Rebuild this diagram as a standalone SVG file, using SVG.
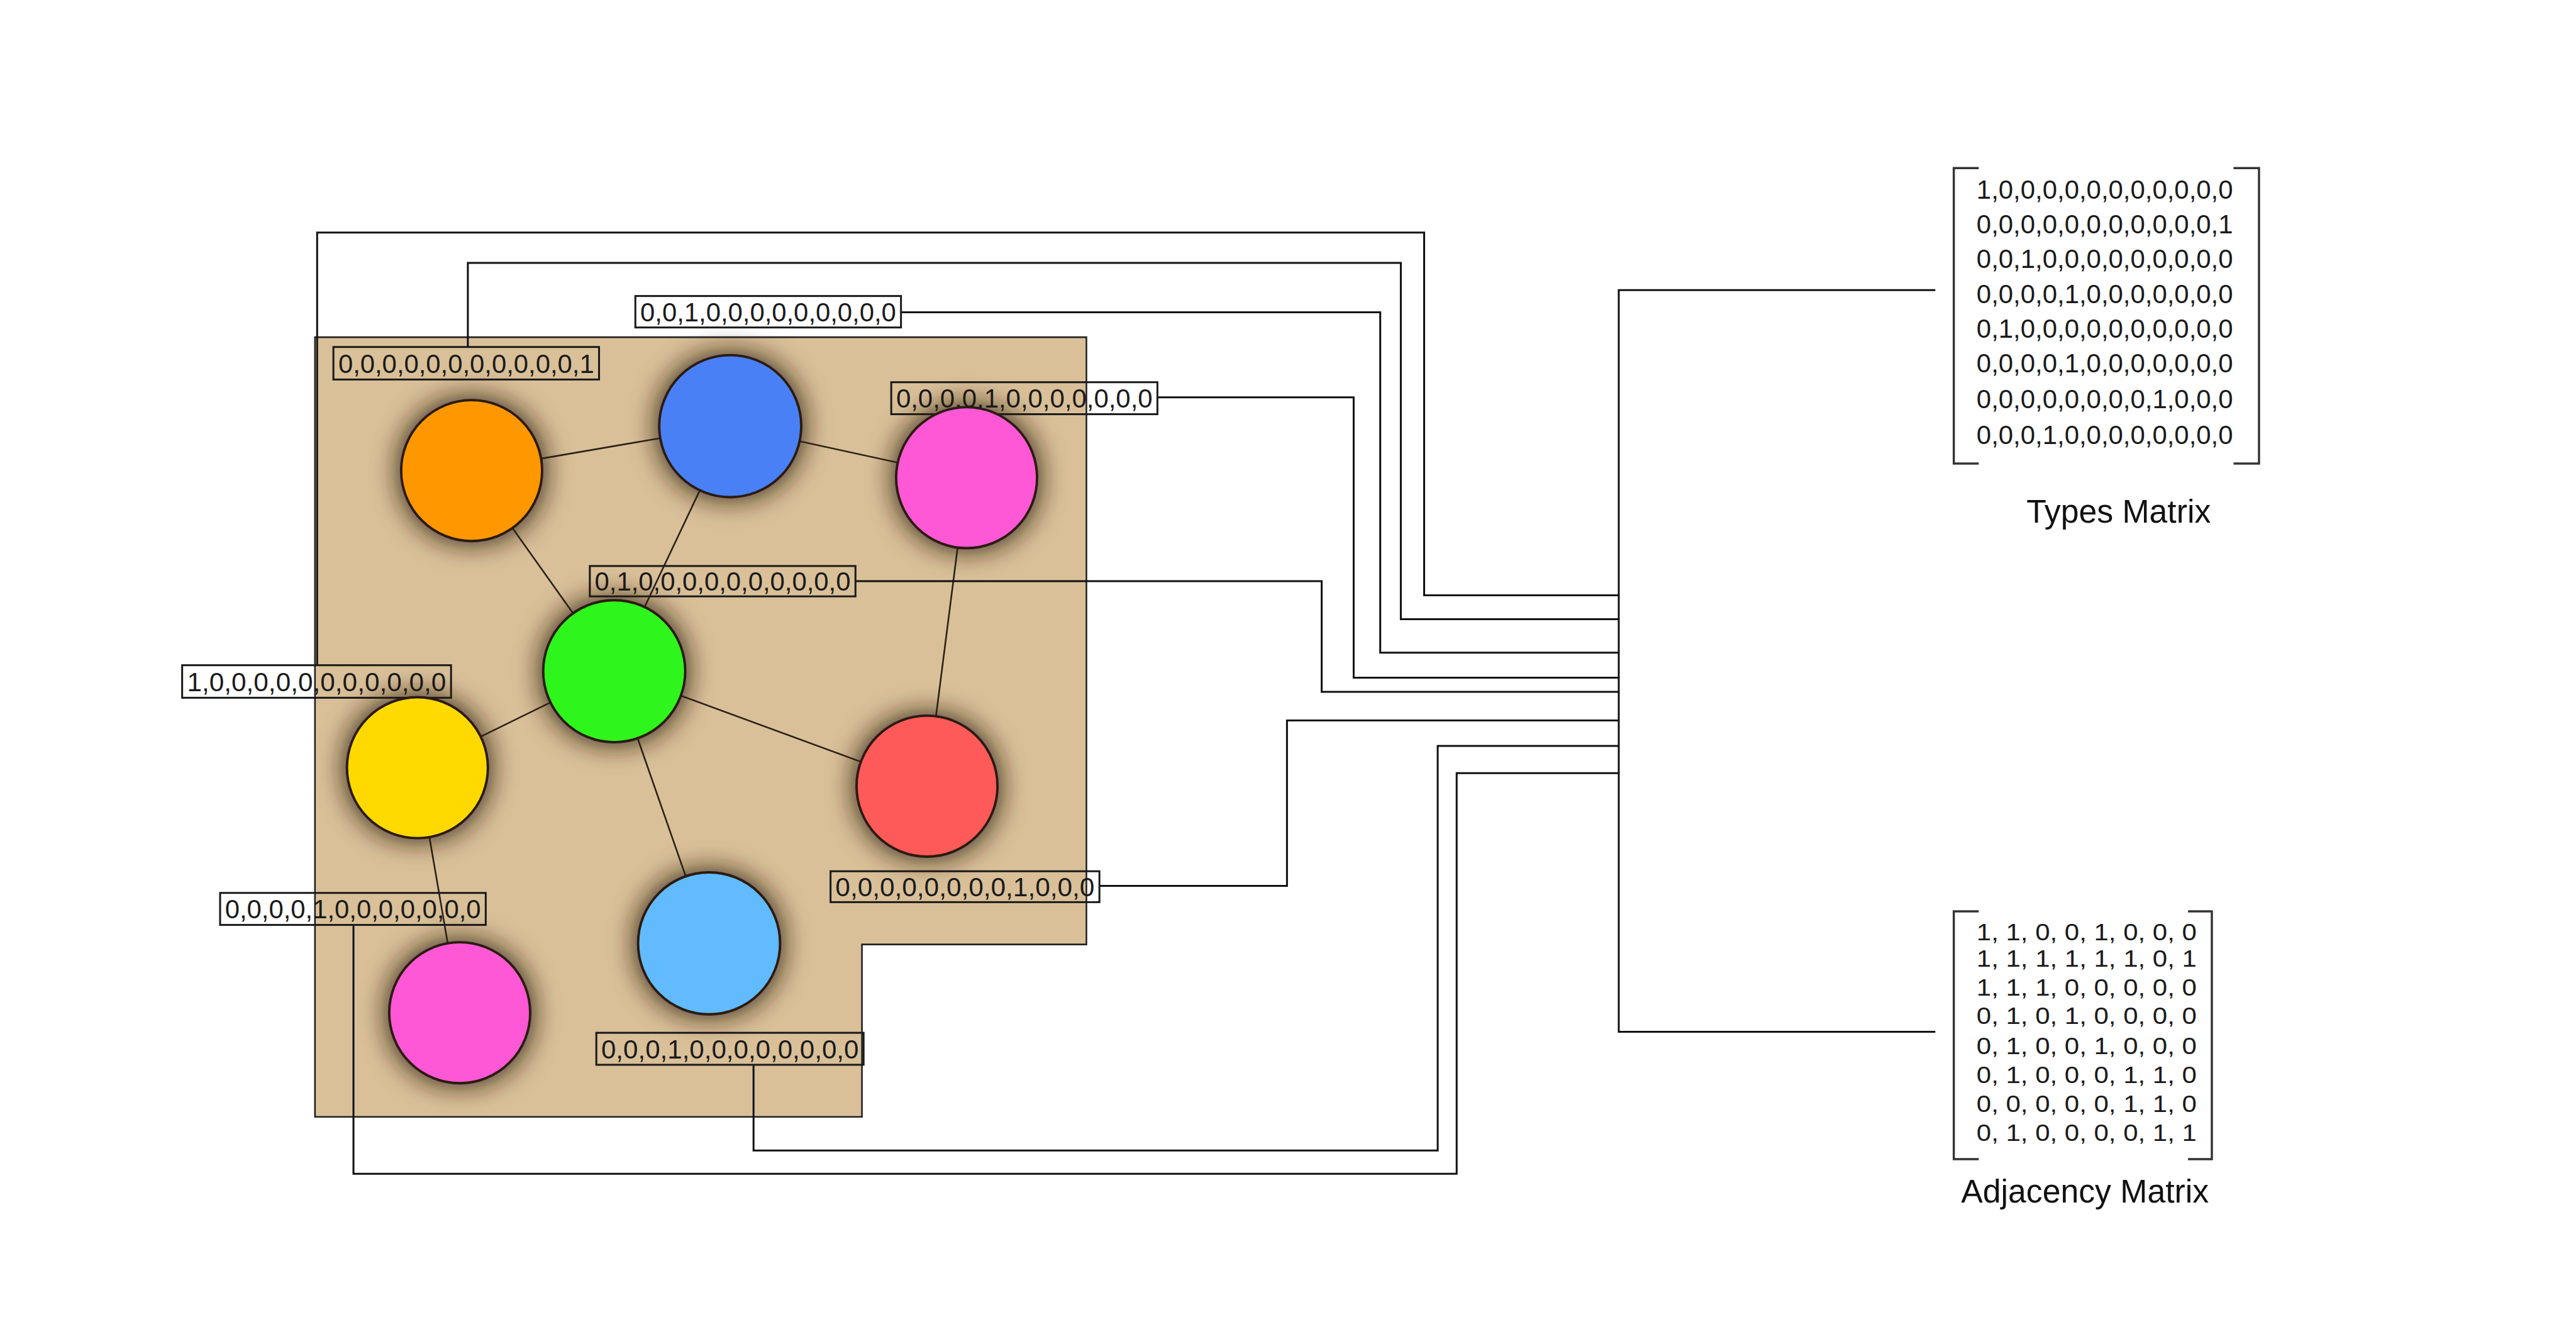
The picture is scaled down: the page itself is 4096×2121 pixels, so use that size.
<svg xmlns="http://www.w3.org/2000/svg" width="4096" height="2121" viewBox="0 0 4096 2121">
<defs>
<style>
.bg{fill:#ffffff}
.region{fill:#D9C098;stroke:#222;stroke-width:3}
.edge{stroke:#2a2118;stroke-width:3;fill:none}
.conn{stroke:#111;stroke-width:3.5;fill:none}
.node{stroke:#2a1a10;stroke-width:4.5}
.lbox{fill:none;stroke:#1a1a1a;stroke-width:3.5}
.ltxt{font-family:"Liberation Sans",Arial,sans-serif;font-size:50px;fill:#1a1a1a}
.brk{fill:none;stroke:#333;stroke-width:4}
.trow{font-family:"Liberation Sans",Arial,sans-serif;font-size:48.6px;fill:#1a1a1a}
.arow{font-family:"Liberation Sans",Arial,sans-serif;font-size:43px;fill:#1a1a1a}
.title{font-family:"Liberation Sans",Arial,sans-serif;font-size:60px;fill:#111;text-anchor:middle}
</style>
<filter id="sh" x="-60%" y="-60%" width="220%" height="220%">
<feMorphology in="SourceAlpha" operator="dilate" radius="6" result="d"/>
<feGaussianBlur in="d" stdDeviation="22" result="b"/>
<feFlood flood-color="#2a1a10" flood-opacity="0.8"/>
<feComposite in2="b" operator="in"/>
<feMerge><feMergeNode/><feMergeNode in="SourceGraphic"/></feMerge>
</filter>
</defs>
<rect class="bg" x="0" y="0" width="4096" height="2121"/>
<g transform="scale(0.862)">
<polygon id="region" class="region" points="581,622 2004,622 2004,1742 1590,1742 1590,2060 581,2060"/>

<g id="edges">
<line class="edge" x1="870" y1="868" x2="1347" y2="786"/>
<line class="edge" x1="1347" y1="786" x2="1783" y2="881"/>
<line class="edge" x1="870" y1="868" x2="1133" y2="1238"/>
<line class="edge" x1="1347" y1="786" x2="1133" y2="1238"/>
<line class="edge" x1="1783" y1="881" x2="1710" y2="1450"/>
<line class="edge" x1="1133" y1="1238" x2="770" y2="1416"/>
<line class="edge" x1="1133" y1="1238" x2="1710" y2="1450"/>
<line class="edge" x1="1133" y1="1238" x2="1308" y2="1740"/>
<line class="edge" x1="770" y1="1416" x2="848" y2="1868"/>
</g>

<g id="connectors">
<polyline class="conn" points="585,1227 585,429 2627,429 2627,1098 2986,1098"/>
<polyline class="conn" points="863,640 863,485 2584,485 2584,1142 2986,1142"/>
<polyline class="conn" points="1662,576 2546,576 2546,1204 2986,1204"/>
<polyline class="conn" points="2135,733 2497,733 2497,1250 2986,1250"/>
<polyline class="conn" points="1578,1072 2438,1072 2438,1276 2986,1276"/>
<polyline class="conn" points="2028,1634 2374,1634 2374,1329 2986,1329"/>
<polyline class="conn" points="1390,1964 1390,2122 2652,2122 2652,1376 2986,1376"/>
<polyline class="conn" points="652,1706 652,2165 2687,2165 2687,1426 2986,1426"/>
<polyline class="conn" points="3570,535 2986,535 2986,1903 3570,1903"/>
</g>

<g id="node-orange">
<rect class="lbox" x="615" y="640" width="490" height="60"/>
<text class="ltxt" x="624" y="688" textLength="472" lengthAdjust="spacingAndGlyphs">0,0,0,0,0,0,0,0,0,0,0,1</text>
<circle class="node" filter="url(#sh)" cx="870" cy="868" r="130" fill="#FF9800"/>
</g>
<g id="node-blue">
<rect class="lbox" x="1172" y="546" width="490" height="58"/>
<text class="ltxt" x="1181" y="593" textLength="472" lengthAdjust="spacingAndGlyphs">0,0,1,0,0,0,0,0,0,0,0,0</text>
<circle class="node" filter="url(#sh)" cx="1347" cy="786" r="131" fill="#4A80F6"/>
</g>
<g id="node-pink-top">
<rect class="lbox" x="1644" y="705" width="491" height="59"/>
<text class="ltxt" x="1653" y="752" textLength="473" lengthAdjust="spacingAndGlyphs">0,0,0,0,1,0,0,0,0,0,0,0</text>
<circle class="node" filter="url(#sh)" cx="1783" cy="881" r="130" fill="#FF58D6"/>
</g>
<g id="node-green">
<rect class="lbox" x="1088" y="1044" width="490" height="56"/>
<text class="ltxt" x="1097" y="1089" textLength="472" lengthAdjust="spacingAndGlyphs">0,1,0,0,0,0,0,0,0,0,0,0</text>
<circle class="node" filter="url(#sh)" cx="1133" cy="1238" r="131" fill="#2DF51A"/>
</g>
<g id="node-yellow">
<rect class="lbox" x="336" y="1227" width="496" height="60"/>
<text class="ltxt" x="345" y="1275" textLength="478" lengthAdjust="spacingAndGlyphs">1,0,0,0,0,0,0,0,0,0,0,0</text>
<circle class="node" filter="url(#sh)" cx="770" cy="1416" r="130" fill="#FFD900"/>
</g>
<g id="node-red">
<rect class="lbox" x="1532" y="1607" width="496" height="57"/>
<text class="ltxt" x="1541" y="1653" textLength="478" lengthAdjust="spacingAndGlyphs">0,0,0,0,0,0,0,0,1,0,0,0</text>
<circle class="node" filter="url(#sh)" cx="1710" cy="1450" r="130" fill="#FF5A5A"/>
</g>
<g id="node-pink-bottom">
<rect class="lbox" x="406" y="1647" width="490" height="59"/>
<text class="ltxt" x="415" y="1694" textLength="472" lengthAdjust="spacingAndGlyphs">0,0,0,0,1,0,0,0,0,0,0,0</text>
<circle class="node" filter="url(#sh)" cx="848" cy="1868" r="130" fill="#FF58D6"/>
</g>
<g id="node-lightblue">
<rect class="lbox" x="1100" y="1905" width="493" height="59"/>
<text class="ltxt" x="1109" y="1952" textLength="475" lengthAdjust="spacingAndGlyphs">0,0,0,1,0,0,0,0,0,0,0,0</text>
<circle class="node" filter="url(#sh)" cx="1308" cy="1740" r="131" fill="#62BAFF"/>
</g>

<g id="types-matrix">
<polyline class="brk" points="3650,310 3604,310 3604,855 3650,855"/>
<polyline class="brk" points="4120,310 4167,310 4167,855 4120,855"/>
<text class="trow" x="3646" y="367" textLength="473" lengthAdjust="spacingAndGlyphs">1,0,0,0,0,0,0,0,0,0,0,0</text>
<text class="trow" x="3646" y="430" textLength="473" lengthAdjust="spacingAndGlyphs">0,0,0,0,0,0,0,0,0,0,0,1</text>
<text class="trow" x="3646" y="494" textLength="473" lengthAdjust="spacingAndGlyphs">0,0,1,0,0,0,0,0,0,0,0,0</text>
<text class="trow" x="3646" y="559" textLength="473" lengthAdjust="spacingAndGlyphs">0,0,0,0,1,0,0,0,0,0,0,0</text>
<text class="trow" x="3646" y="623" textLength="473" lengthAdjust="spacingAndGlyphs">0,1,0,0,0,0,0,0,0,0,0,0</text>
<text class="trow" x="3646" y="687" textLength="473" lengthAdjust="spacingAndGlyphs">0,0,0,0,1,0,0,0,0,0,0,0</text>
<text class="trow" x="3646" y="753" textLength="473" lengthAdjust="spacingAndGlyphs">0,0,0,0,0,0,0,0,1,0,0,0</text>
<text class="trow" x="3646" y="819" textLength="473" lengthAdjust="spacingAndGlyphs">0,0,0,1,0,0,0,0,0,0,0,0</text>
<text class="title" x="3908" y="964">Types Matrix</text>
</g>

<g id="adjacency-matrix">
<polyline class="brk" points="3650,1681 3604,1681 3604,2138 3650,2138"/>
<polyline class="brk" points="4036,1681 4080,1681 4080,2138 4036,2138"/>
<text class="arow" x="3646" y="1734" textLength="406" lengthAdjust="spacingAndGlyphs">1, 1, 0, 0, 1, 0, 0, 0</text>
<text class="arow" x="3646" y="1783" textLength="406" lengthAdjust="spacingAndGlyphs">1, 1, 1, 1, 1, 1, 0, 1</text>
<text class="arow" x="3646" y="1836" textLength="406" lengthAdjust="spacingAndGlyphs">1, 1, 1, 0, 0, 0, 0, 0</text>
<text class="arow" x="3646" y="1889" textLength="406" lengthAdjust="spacingAndGlyphs">0, 1, 0, 1, 0, 0, 0, 0</text>
<text class="arow" x="3646" y="1944" textLength="406" lengthAdjust="spacingAndGlyphs">0, 1, 0, 0, 1, 0, 0, 0</text>
<text class="arow" x="3646" y="1998" textLength="406" lengthAdjust="spacingAndGlyphs">0, 1, 0, 0, 0, 1, 1, 0</text>
<text class="arow" x="3646" y="2051" textLength="406" lengthAdjust="spacingAndGlyphs">0, 0, 0, 0, 0, 1, 1, 0</text>
<text class="arow" x="3646" y="2104" textLength="406" lengthAdjust="spacingAndGlyphs">0, 1, 0, 0, 0, 0, 1, 1</text>
<text class="title" x="3846" y="2218">Adjacency Matrix</text>
</g>
</g>
</svg>
